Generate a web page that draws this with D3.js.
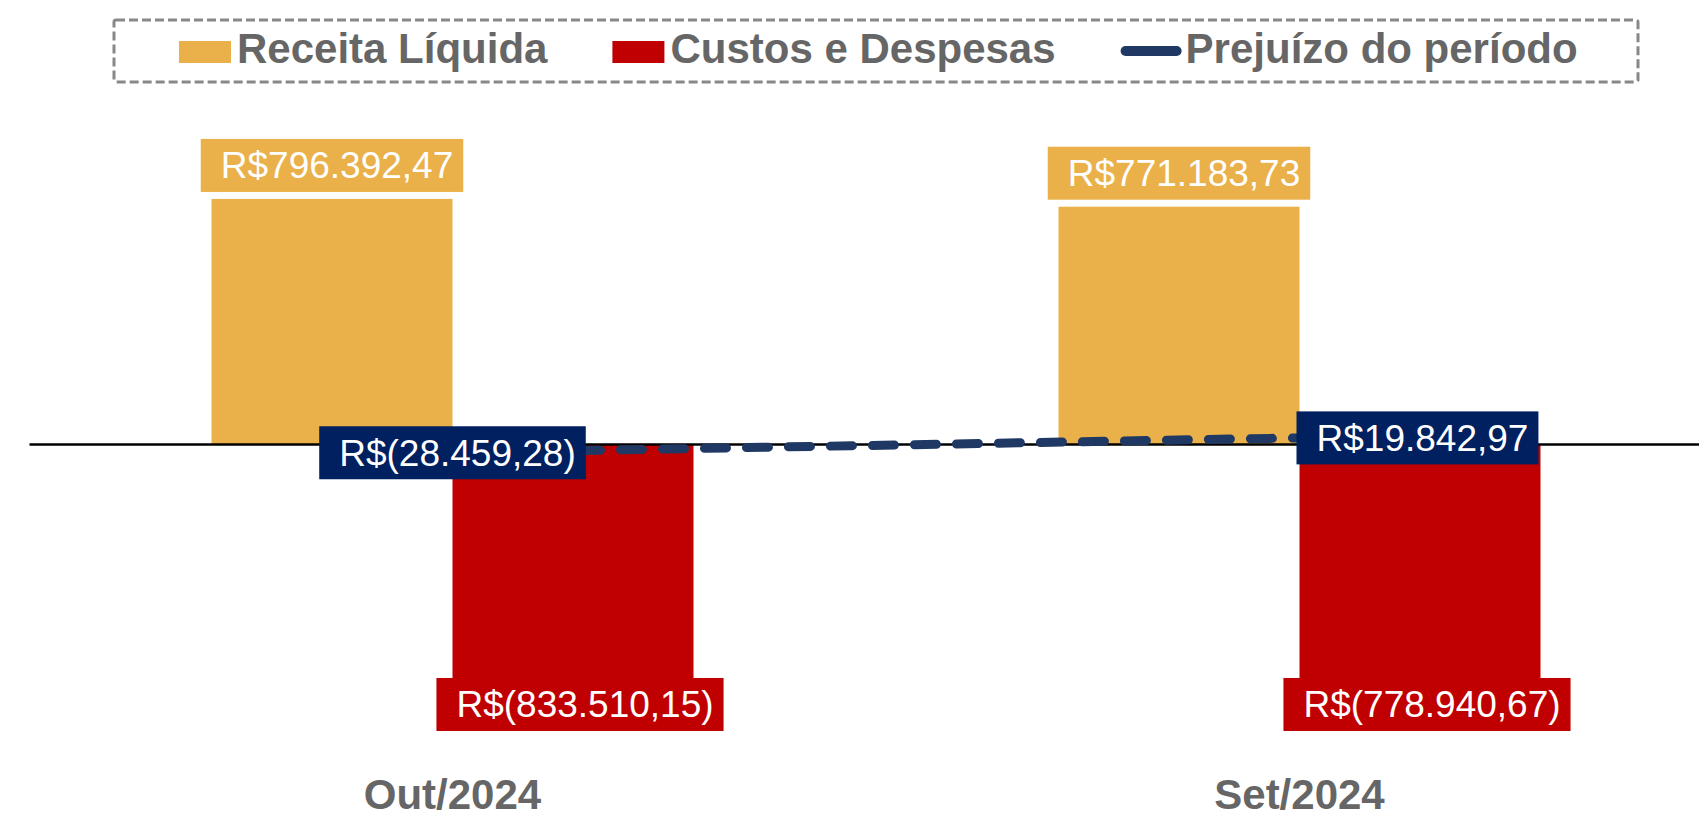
<!DOCTYPE html>
<html><head><meta charset="utf-8">
<script src="https://cdn.jsdelivr.net/npm/d3@7"></script>
<style>body{margin:0;background:#fff;overflow:hidden} svg{display:block;font-family:"Liberation Sans",Arial,sans-serif}</style>
</head><body><svg id="c" width="1699" height="819"></svg>
<script>
const categories = ["Out/2024", "Set/2024"];
const receita = [796392.47, 771183.73];
const custos = [-833510.15, -778940.67];
const prejuizo = [-28459.28, 19842.97];
const seriesNames = ["Receita Líquida", "Custos e Despesas", "Prejuízo do período"];
const seriesColors = ["#EAB04A", "#C00000", "#1F3864"];
const lineLabelAnchor = ["center", "right"];

function fmt(v) {
  const s = Math.abs(v).toFixed(2).split(".");
  const int = s[0].replace(/\B(?=(\d{3})+(?!\d))/g, ".");
  const body = int + "," + s[1];
  return v < 0 ? "R$(" + body + ")" : "R$" + body;
}

const svg = d3.select("#c");

const x = d3.scaleBand().domain(categories).range([29, 1723]).padding(0);
const sub = d3.scaleBand().domain(["r", "c"]).range([-241, 241]).padding(0);
const y = d3.scaleLinear().domain([-1000000, 1000000]).range([751.7, 136.3]);
const cx = c => x(c) + x.bandwidth() / 2;

// bars
const gBars = svg.append("g");
gBars.selectAll("rect.r").data(categories).join("rect").attr("class", "r")
  .attr("x", c => cx(c) + sub("r")).attr("width", sub.bandwidth())
  .attr("y", (c, i) => y(receita[i])).attr("height", (c, i) => y(0) - y(receita[i]))
  .attr("fill", seriesColors[0]);
gBars.selectAll("rect.c").data(categories).join("rect").attr("class", "c")
  .attr("x", c => cx(c) + sub("c")).attr("width", sub.bandwidth())
  .attr("y", y(0)).attr("height", (c, i) => y(custos[i]) - y(0))
  .attr("fill", seriesColors[1]);

// zero axis
const ax = svg.append("g").attr("transform", `translate(0,${y(0)})`)
  .call(d3.axisBottom(x).tickSize(0).tickFormat(""));
ax.select(".domain").attr("stroke", "#000").attr("stroke-width", 2.5);

// category labels
svg.append("g").selectAll("text").data(categories).join("text")
  .attr("x", c => cx(c)).attr("y", 809).attr("text-anchor", "middle")
  .attr("font-size", 42).attr("font-weight", "bold").attr("fill", "#666666")
  .text(c => c);

// line
const line = d3.line().x((v, i) => cx(categories[i])).y(v => y(v));
svg.append("path").datum(prejuizo).attr("d", line)
  .attr("fill", "none").attr("stroke", seriesColors[2]).attr("stroke-width", 9)
  .attr("stroke-dasharray", "22 20").attr("stroke-linecap", "round");

// labels
const BH = 53;
function label(text, fill, place) {
  const g = svg.append("g");
  const r = g.append("rect").attr("fill", fill);
  const t = g.append("text").attr("font-size", 37).attr("fill", "#fff").text(text);
  const tw = t.node().getComputedTextLength();
  const w = tw + 30;
  const { left, top } = place(w);
  r.attr("x", left).attr("y", top).attr("width", w).attr("height", BH);
  t.attr("x", left + 20).attr("y", top + BH / 2 + 13);
}
categories.forEach((c, i) => {
  const gc = cx(c) + sub("r") + sub.bandwidth() / 2;
  label(fmt(receita[i]), seriesColors[0], w => ({ left: gc - w / 2, top: y(receita[i]) - 7 - BH }));
  const rc = cx(c) + sub("c") + sub.bandwidth() / 2 + 7;
  const ry = y(d3.min(custos)) + 4;
  label(fmt(custos[i]), seriesColors[1], w => ({ left: rc - w / 2, top: ry - BH / 2 }));
});
categories.forEach((c, i) => {
  const px = cx(c), py = y(prejuizo[i]);
  label(fmt(prejuizo[i]), "#002060", w => ({
    left: lineLabelAnchor[i] === "center" ? px - w / 2 : px - 3,
    top: py - BH / 2
  }));
});

// legend
const lg = svg.append("g");
lg.append("rect").attr("x", 114).attr("y", 20).attr("width", 1524).attr("height", 62)
  .attr("fill", "none").attr("stroke", "#888888").attr("stroke-width", 3)
  .attr("stroke-dasharray", "9 4").attr("rx", 2);
let lx = 179;
seriesNames.forEach((n, i) => {
  const g = lg.append("g");
  if (i < 2) {
    g.append("rect").attr("x", lx).attr("y", 41).attr("width", 52).attr("height", 22).attr("fill", seriesColors[i]);
    lx += 58;
  } else {
    g.append("line").attr("x1", lx + 5).attr("x2", lx + 56).attr("y1", 51).attr("y2", 51)
      .attr("stroke", seriesColors[i]).attr("stroke-width", 10).attr("stroke-linecap", "round");
    lx += 65;
  }
  const t = g.append("text").attr("x", lx).attr("y", 63).attr("font-size", 42)
    .attr("font-weight", "bold").attr("fill", "#666666").text(n);
  lx += t.node().getComputedTextLength() + 65;
});
</script></body></html>
